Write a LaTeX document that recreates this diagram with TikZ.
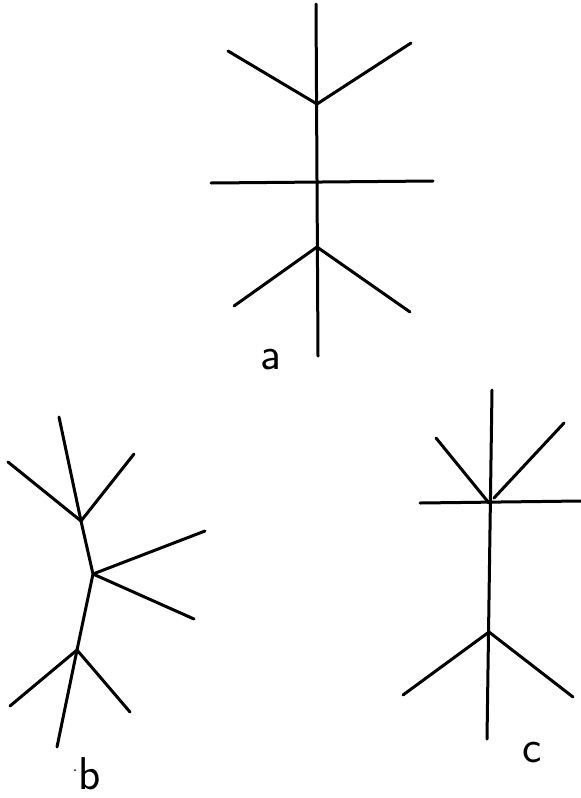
\documentclass[tikz,border=0pt]{standalone}
\begin{document}
\begin{tikzpicture}[x=1pt,y=-1pt,
  stroke/.style={line width=3pt,line cap=round,line join=round},
  lbl/.style={font=\fontsize{46}{46}\sffamily,inner sep=0pt}]
\useasboundingbox (0,0) rectangle (581,798);
% ---- a ----
\coordinate (aT) at (316,4);
\coordinate (aB) at (318,356);
\coordinate (a1) at (317,104);
\coordinate (a1l) at (228,51);
\coordinate (a1r) at (411,43);
\coordinate (ahl) at (211,183);
\coordinate (ahr) at (433,181);
\coordinate (a2) at (317,247);
\coordinate (a2l) at (234,306);
\coordinate (a2r) at (410,312);
\draw[stroke] (aT) -- (aB);
\draw[stroke] (a1l) -- (a1) -- (a1r);
\draw[stroke] (ahl) -- (ahr);
\draw[stroke] (a2l) -- (a2) -- (a2r);
\node[lbl] (la) at (271,360) {a};
% ---- b ----
\coordinate (bT) at (59,417);
\coordinate (b1) at (81,521);
\coordinate (b1l) at (8,462);
\coordinate (b1r) at (134,454);
\coordinate (b2) at (93,574);
\coordinate (b2u) at (205,531);
\coordinate (b2d) at (194,619);
\coordinate (b3) at (77,650);
\coordinate (b3l) at (10,706);
\coordinate (b3r) at (130,712);
\coordinate (bB) at (57,747);
\draw[stroke] (bT) -- (b1) -- (b2) -- (b3) -- (bB);
\draw[stroke] (b1l) -- (b1) -- (b1r);
\draw[stroke] (b2u) -- (b2) -- (b2d);
\draw[stroke] (b3l) -- (b3) -- (b3r);
\node[lbl] (lb) at (90,774) {b};
\fill (75,770) circle (1pt);
% ---- c ----
\coordinate (cT) at (492,390);
\coordinate (cB) at (487,739);
\coordinate (c1) at (489,503);
\coordinate (c1l) at (436,438);
\coordinate (c1s) at (494,498);
\coordinate (c1r) at (564,423);
\coordinate (chl) at (420,503);
\coordinate (chr) at (581,501);
\coordinate (c2) at (489,632);
\coordinate (c2l) at (403,695);
\coordinate (c2r) at (573,697);
\draw[stroke] (cT) -- (cB);
\draw[stroke] (c1l) -- (c1);
\draw[stroke] (c1s) -- (c1r);
\draw[stroke] (chl) -- (chr);
\draw[stroke] (c2l) -- (c2) -- (c2r);
\node[lbl] (lc) at (532,753) {c};
\end{tikzpicture}
\end{document}
